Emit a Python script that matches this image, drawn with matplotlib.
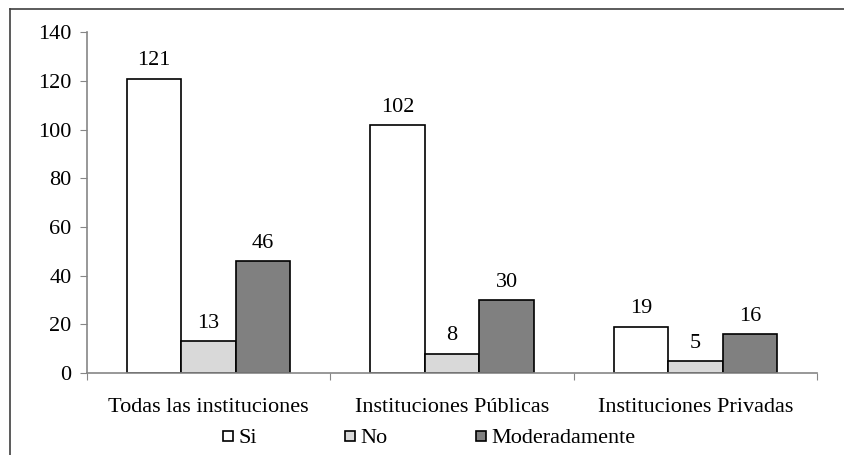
import matplotlib.pyplot as plt
import numpy as np
from matplotlib.lines import Line2D

plt.rcParams['font.family'] = ['Liberation Serif', 'DejaVu Serif']

categorias = ['Todas las instituciones', 'Instituciones Públicas', 'Instituciones Privadas']
series = ['Si', 'No', 'Moderadamente']
si = [121, 102, 19]
no = [13, 8, 5]
moderadamente = [46, 30, 16]
colores = ['#FFFFFF', '#D9D9D9', '#808080']

fig = plt.figure(figsize=(8.45, 4.55), dpi=100)
ax = fig.add_axes([87 / 845, 1 - 373 / 455, (817 - 87) / 845, (373 - 32.4) / 455])

x = np.arange(len(categorias)) + 0.5
w = 0.224
valores = [si, no, moderadamente]
for i, (nombre, vals, c) in enumerate(zip(series, valores, colores)):
    pos = x + (i - 1) * w
    bars = ax.bar(pos, vals, width=w, color=c, edgecolor='black', linewidth=1.2, label=nombre)
    for b, v in zip(bars, vals):
        ax.annotate(str(v), (b.get_x() + b.get_width() / 2, v), xytext=(0, 6),
                    textcoords='offset points', ha='center', va='bottom', fontsize=16)

ax.set_xlim(0, 3)
ax.set_ylim(0, 140)
ax.set_yticks(range(0, 141, 20))
ax.set_xticks([0, 1, 2, 3])
ax.set_xticklabels([])
ax.set_xticks(x, minor=True)
ax.set_xticklabels(categorias, minor=True)
ax.tick_params(axis='x', which='minor', length=0, pad=18, labelsize=16)
ax.tick_params(axis='x', which='major', length=5, color='#868686', direction='out')
ax.tick_params(axis='y', length=5, color='#868686', labelsize=16, pad=6)
for s in ['top', 'right']:
    ax.spines[s].set_visible(False)
for s in ['left', 'bottom']:
    ax.spines[s].set_color('#868686')
    ax.spines[s].set_linewidth(1.2)

handles = [Line2D([], [], marker='s', linestyle='none', markersize=7.5,
                  markerfacecolor=c, markeredgecolor='black', markeredgewidth=1.2)
           for c in colores]
fig.legend(handles, series, loc='center', bbox_to_anchor=(0.507, 1 - 438 / 455), ncol=3,
           frameon=False, fontsize=16, handletextpad=0.15, columnspacing=3.9,
           handlelength=0.6)

# marco exterior (solo lados superior e izquierdo visibles)
fig.add_artist(Line2D([10 / 845, 1.0], [1 - 8.5 / 455] * 2, color='#404040', lw=1.2,
                      transform=fig.transFigure))
fig.add_artist(Line2D([10 / 845] * 2, [0.0, 1 - 8.5 / 455], color='#404040', lw=1.2,
                      transform=fig.transFigure))

fig.savefig('out.png', dpi=100)
